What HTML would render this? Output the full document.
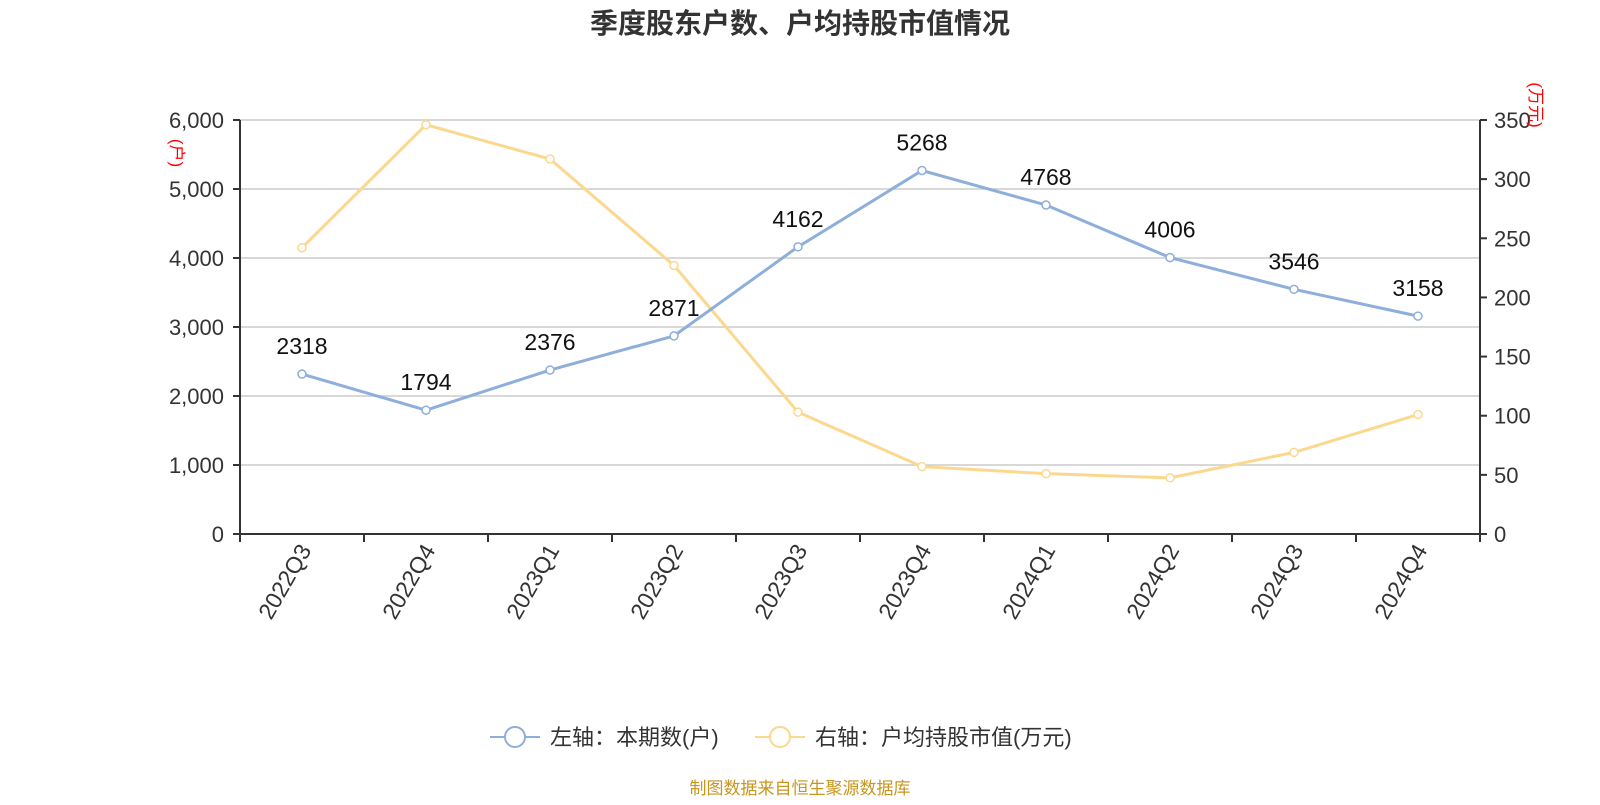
<!DOCTYPE html>
<html><head><meta charset="utf-8"><style>
body{margin:0;background:#fff;}
svg text{font-family:"Liberation Sans","Noto Sans CJK SC",sans-serif;}
</style></head><body>
<svg id="c" width="1600" height="800" xmlns="http://www.w3.org/2000/svg">
<text x="800" y="33" text-anchor="middle" font-size="28" font-weight="bold" fill="#333">季度股东户数、户均持股市值情况</text>
<g id="grid"></g><g id="axes"></g><g id="series"></g>
<text transform="translate(171,153) rotate(90)" text-anchor="middle" font-size="17" fill="#f00">(户)</text>
<text transform="translate(1530,105) rotate(90)" text-anchor="middle" font-size="17" fill="#f00">(万元)</text>
<g>
<line x1="490" y1="737" x2="540" y2="737" stroke="#8eaedb" stroke-width="2"/><circle cx="515" cy="737" r="10" fill="#fff" stroke="#8eaedb" stroke-width="2"/>
<text x="550" y="745" font-size="22" fill="#333">左轴：本期数(户)</text></g>
<g>
<line x1="755" y1="737" x2="805" y2="737" stroke="#fcd88f" stroke-width="2"/><circle cx="780" cy="737" r="10" fill="#fff" stroke="#fcd88f" stroke-width="2"/>
<text x="815" y="745" font-size="22" fill="#333">右轴：户均持股市值(万元)</text></g>
<text x="800" y="794" text-anchor="middle" font-size="17" fill="#c8951e">制图数据来自恒生聚源数据库</text>
</svg>
<script>
const categories=["2022Q3","2022Q4","2023Q1","2023Q2","2023Q3","2023Q4","2024Q1","2024Q2","2024Q3","2024Q4"];
const holders=[2318,1794,2376,2871,4162,5268,4768,4006,3546,3158];
const avgValue=[242,346,317,227,103,57,51,47.5,69,101];
const leftTicks=[0,1000,2000,3000,4000,5000,6000];
const rightTicks=[0,50,100,150,200,250,300,350];
const NS="http://www.w3.org/2000/svg";
const X0=240,X1=1480,Y0=534,Y1=120;
const bw=(X1-X0)/categories.length;
const xs=i=>X0+bw*(i+0.5);
const yl=v=>Y0-(v/6000)*(Y0-Y1);
const yr=v=>Y0-(v/350)*(Y0-Y1);
function mk(p,t,a,txt){const e=document.createElementNS(NS,t);for(const k in a)e.setAttribute(k,a[k]);if(txt!==undefined)e.textContent=txt;p.appendChild(e);return e;}
const g=document.getElementById('grid'),ax=document.getElementById('axes'),s=document.getElementById('series');
leftTicks.forEach(v=>{
 const l=mk(g,'line',{x1:X0,x2:X1,y1:yl(v),y2:yl(v),stroke:'#ccc','stroke-width':1.5});
 
 
 const t=mk(ax,'text',{x:X0-16,y:yl(v)+8,'text-anchor':'end','font-size':22,fill:'#333'},v.toLocaleString('en-US'));
 
 
 mk(ax,'line',{x1:X0-7,x2:X0,y1:yl(v),y2:yl(v),stroke:'#333','stroke-width':2});
});
rightTicks.forEach(v=>{
 const t=mk(ax,'text',{x:X1+14,y:yr(v)+8,'font-size':22,fill:'#333'},v);
 
 
 mk(ax,'line',{x1:X1,x2:X1+7,y1:yr(v),y2:yr(v),stroke:'#333','stroke-width':2});
});
mk(ax,'line',{x1:X0,x2:X0,y1:Y1,y2:Y0,stroke:'#333','stroke-width':2});
mk(ax,'line',{x1:X1,x2:X1,y1:Y1,y2:Y0,stroke:'#333','stroke-width':2});
mk(ax,'line',{x1:X0,x2:X1,y1:Y0,y2:Y0,stroke:'#333','stroke-width':2});
categories.forEach((c,i)=>{
 mk(ax,'line',{x1:X0+bw*i,x2:X0+bw*i,y1:Y0,y2:Y0+8,stroke:'#333','stroke-width':2});
 const t=mk(ax,'text',{transform:`translate(${xs(i)+10},${Y0+16}) rotate(-60)`,'text-anchor':'end','font-size':23,fill:'#333'},c);
 
 
});
mk(ax,'line',{x1:X1,x2:X1,y1:Y0,y2:Y0+8,stroke:'#333','stroke-width':2});
function line(vals,fy,col,name){
 const p=mk(s,'polyline',{points:vals.map((v,i)=>xs(i)+','+fy(v)).join(' '),fill:'none',stroke:col,'stroke-width':3});
 
 
 vals.forEach((v,i)=>{
  const c=mk(s,'circle',{cx:xs(i),cy:fy(v),r:4,fill:'#fff',stroke:col,'stroke-width':1.5});
  
  
 });
}
line(avgValue,yr,'#fcd88f','avg-value');
line(holders,yl,'#8eaedb','holders');
holders.forEach((v,i)=>{
 const t=mk(s,'text',{x:xs(i),y:yl(v)-20,'text-anchor':'middle','font-size':23,fill:'#111'},v);
 
 
});
</script>
</body></html>
